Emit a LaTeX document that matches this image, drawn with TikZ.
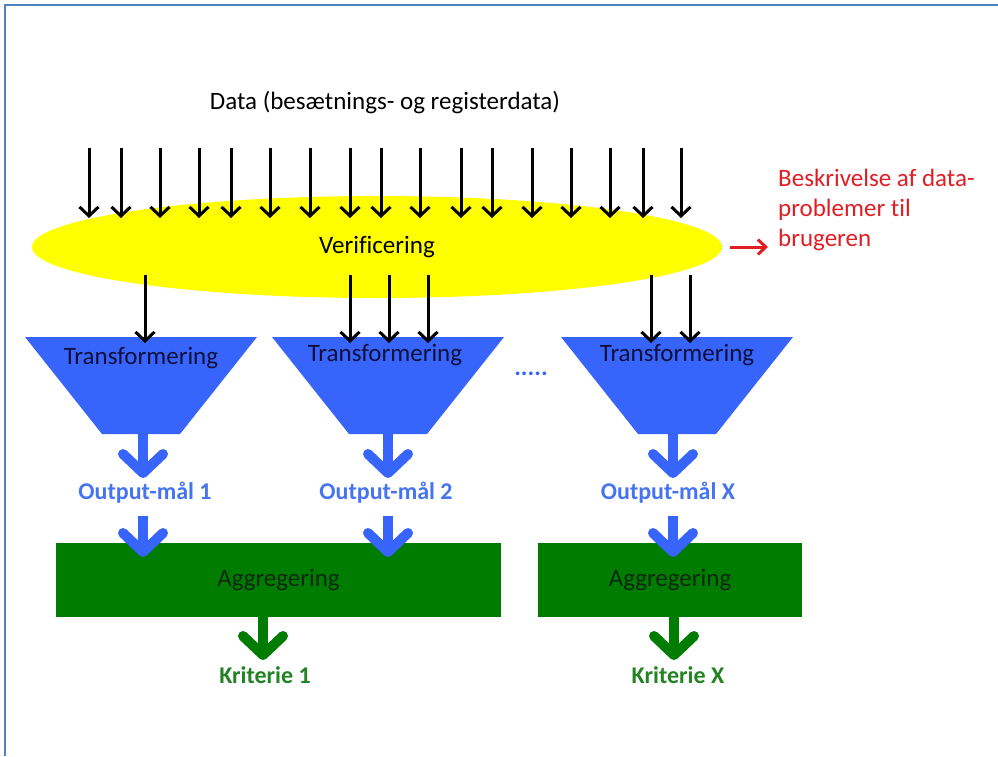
\documentclass[tikz,border=0pt]{standalone}
\usepackage{fontspec}
\setmainfont{Carlito}[Ligatures=NoCommon]
\usetikzlibrary{arrows.meta,shapes.geometric,positioning}
\definecolor{tblue}{RGB}{55,100,250}
\definecolor{oblue}{RGB}{70,115,240}
\definecolor{agreen}{RGB}{0,125,0}
\definecolor{kgreen}{RGB}{35,130,35}
\definecolor{vyellow}{RGB}{255,255,0}
\definecolor{dred}{RGB}{225,30,35}
\definecolor{frameblue}{RGB}{80,130,195}
\tikzset{
  txt/.style={font=\fontsize{25}{30}\selectfont, inner sep=0pt},
  boldtxt/.style={txt, font=\fontsize{24}{28}\selectfont\bfseries},
  thinarrow/.style={line width=3pt, -{Straight Barb[length=9pt,width=19pt]}},
  fatarrow/.style={line width=10pt, -{Straight Barb[length=19pt,width=40pt,round]}},
  aggbox/.style={txt, fill=agreen, minimum height=74pt, text={rgb,255:red,15;green,40;blue,15}},
}
\begin{document}
\begin{tikzpicture}[x=1pt,y=-1pt]
  \useasboundingbox (0,0) rectangle (998,756);
  \draw [frameblue, line width=2pt] (5,756) -- (5,5) -- (998,5);
  \def\funnel{(-116,0) -- (116,0) -- (39,97) -- (-39,97) -- cycle}

  % data in
  \node [txt] (data) at (385,102) {Data (besætnings- og registerdata)};
  \node [ellipse, fill=vyellow, minimum width=690pt, minimum height=102pt, txt] (ver) at (377,247) {Verificering};
  \foreach \x [count=\i] in {89,121,160,199,231,270,310,350,381,420,461,492,532,571,610,643,681}{
    \coordinate (in\i) at (\x,148);
    \coordinate (hit\i) at (\x,218);
    \draw [thinarrow] (in\i) -- (hit\i);
  }
  \node [txt, text=dred, align=left, anchor=west] (desc) at (778,210) {Beskrivelse af data-\\problemer til\\brugeren};
  \draw [dred, line width=3pt, -{Straight Barb[length=8pt,width=15pt]}, shorten >=10pt] ([xshift=8pt]ver.east) -- (desc.west |- ver.east);

  % transformering
  \fill [tblue, shift={(141,337)}] \funnel;
  \fill [tblue, shift={(388,337)}] \funnel;
  \fill [tblue, shift={(677,337)}] \funnel;
  \node [txt, text={rgb,255:red,15;green,15;blue,60}] (tr1) at (141,358) {Transformering};
  \node [txt, text={rgb,255:red,15;green,15;blue,60}] (tr2) at (385,355) {Transformering};
  \node [txt, text={rgb,255:red,15;green,15;blue,60}] (tr3) at (677,355) {Transformering};
  \node [txt, text=tblue, anchor=base] (dots) at (531,375) {\bfseries .....};
  \foreach \x [count=\i] in {145,350,389,428,651,690}{
    \coordinate (from\i) at (\x,275);
    \coordinate (to\i) at (\x,343);
    \draw [thinarrow] (from\i) -- (to\i);
  }

  % output
  \node [boldtxt, text=oblue] (out1) at (145,493) {Output-mål 1};
  \node [boldtxt, text=oblue] (out2) at (386,493) {Output-mål 2};
  \node [boldtxt, text=oblue] (out3) at (668,493) {Output-mål X};
  \coordinate (t1) at (143,434);
  \coordinate (t2) at (388,434);
  \coordinate (t3) at (673,434);
  \draw [fatarrow, tblue] (t1) -- (143,478);
  \draw [fatarrow, tblue] (t2) -- (388,478);
  \draw [fatarrow, tblue] (t3) -- (673,478);

  % aggregering
  \node [aggbox, minimum width=445pt] (agg1) at (278.5,580) {Aggregering};
  \node [aggbox, minimum width=264pt] (agg2) at (670,580) {Aggregering};
  \draw [fatarrow, tblue] ([yshift=-12pt]out1.south -| 143,0) -- (143,557);
  \draw [fatarrow, tblue] ([yshift=-12pt]out2.south -| 388,0) -- (388,557);
  \draw [fatarrow, tblue] ([yshift=-12pt]out3.south -| 673,0) -- (673,557);

  % kriterier
  \node [boldtxt, text=kgreen] (krit1) at (265,675) {Kriterie 1};
  \node [boldtxt, text=kgreen] (krit2) at (678,675) {Kriterie X};
  \draw [fatarrow, agreen] (agg1.south -| 263,0) -- (263,660);
  \draw [fatarrow, agreen] (agg2.south -| 674,0) -- (674,660);
\end{tikzpicture}
\end{document}
